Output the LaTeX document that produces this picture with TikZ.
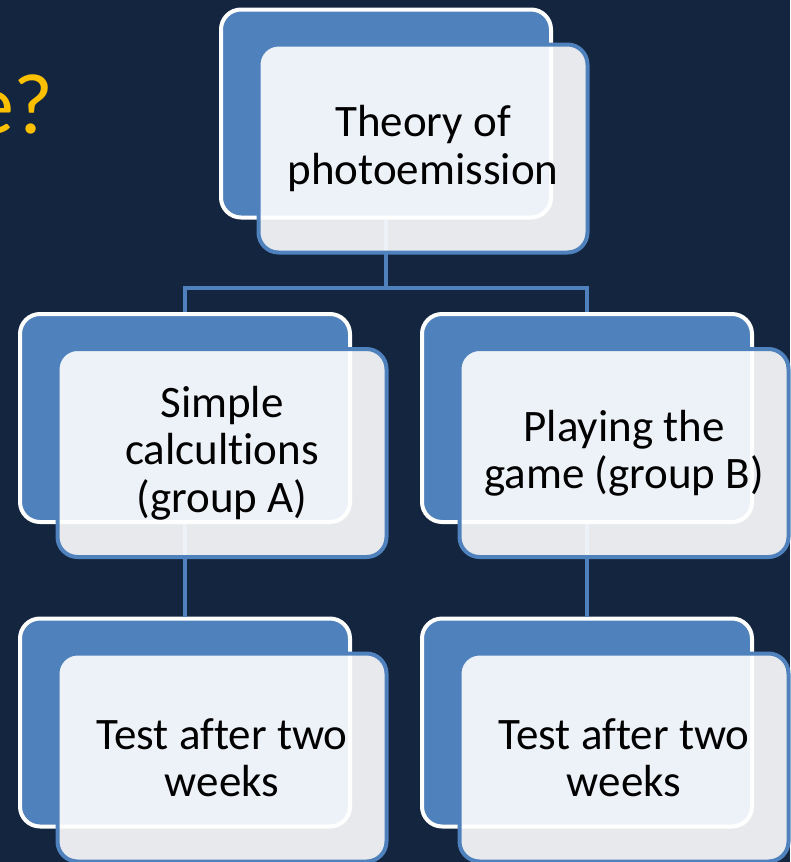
\documentclass[tikz,border=0pt]{standalone}
\usepackage{fontspec}
\setmainfont{Carlito}[Ligatures=NoCommon]
\usetikzlibrary{positioning}
\definecolor{navy}{HTML}{13253F}
\definecolor{boxblue}{HTML}{4F81BD}
\definecolor{gold}{HTML}{FFC000}

\begin{document}
\begin{tikzpicture}[
        x=1pt, y=-1pt, % pixel grid, y runs down
        back/.style={draw=white, line width=4pt, fill=boxblue,
            rounded corners=20pt, minimum width=330pt,
            minimum height=208pt, inner sep=0pt},
        front/.style={draw=boxblue, line width=4pt, fill=white,
            fill opacity=0.9, text opacity=1, text=black,
            rounded corners=20pt, minimum width=329pt,
            minimum height=208pt, align=center,
            font=\fontsize{45}{47.5}\selectfont},
        link/.style={draw=boxblue, line width=4pt}, % tree lines
    ]
        \useasboundingbox[fill=navy] (0,0) rectangle (790,862);

        \node[anchor=base east, text=gold, inner sep=0pt,
            font=\fontsize{86}{100}\selectfont] (title) at (54,133) {e?};

        % back plates
        \node[back] (thb) at (386,113.5) {};
        \node[back] (gab) at (185,418) {};
        \node[back] (gbb) at (587,418) {};
        \node[back] (tab) at (185,722.5) {};
        \node[back] (tbb) at (587,722.5) {};

        % tree lines
        \coordinate (bus) at (386,288);
        \draw[link] (thb.south) -- (bus);
        \draw[link] (bus) -| (gab.north);
        \draw[link] (bus) -| (gbb.north);
        \draw[link] (gab.south) -- (tab.north);
        \draw[link] (gbb.south) -- (tbb.north);

        % front cards
        \node[front] (th) at ([shift={(37,35)}]thb.center)
            {Theory of\\photoemission};
        \node[front] (ga) at ([shift={(37,35)}]gab.center)
            {Simple\\calcultions\\(group A)};
        \node[front] (gb) at ([shift={(37,35)}]gbb.center)
            {Playing the\\game (group B)};
        \node[front] (ta) at ([shift={(37,35)}]tab.center)
            {Test after two\\weeks};
        \node[front] (tb) at ([shift={(37,35)}]tbb.center)
            {Test after two\\weeks};
    \end{tikzpicture}
\end{document}
